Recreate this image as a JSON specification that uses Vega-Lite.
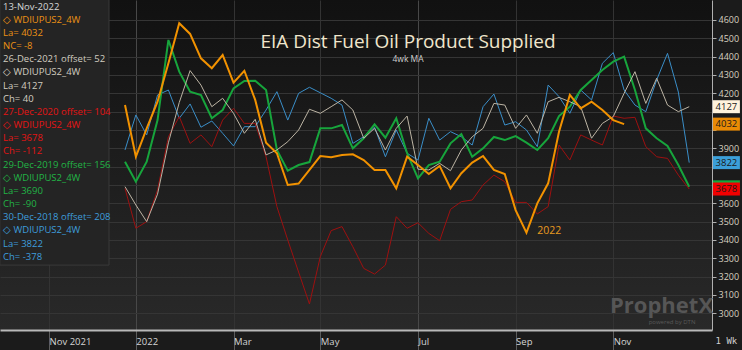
{
  "$schema": "https://vega.github.io/schema/vega-lite/v6.json",
  "width": 712,
  "height": 330,
  "autosize": {"type": "none"},
  "padding": {"left": 0, "top": 0, "right": 30, "bottom": 20},
  "background": "#1b1b1b",
  "config": {
    "font": "Open Sans",
    "axis": {"labelOverlap": false},
    "view": {"stroke": null, "fill": {"gradient": "linear", "x1": 0, "y1": 0, "x2": 0, "y2": 1, "stops": [{"offset": 0, "color": "#111111"}, {"offset": 1, "color": "#292929"}]}}
  },
  "title": {"text": "EIA Dist Fuel Oil Product Supplied", "subtitle": "4wk MA", "anchor": "middle", "orient": "top", "offset": -66, "dx": 52, "color": "#f0e6cc", "fontSize": 19, "fontWeight": "normal", "font": "Open Sans", "subtitleColor": "#cfcfcf", "subtitleFont": "Open Sans", "subtitleFontSize": 8.5, "subtitlePadding": 3},
  "datasets": {
    "weekly": [
      {"d": "2021-12-26", "2022": 4136, "2021": 3691, "2020": 3682, "2019": 3827, "2018": 3891},
      {"d": "2022-01-02", "2022": 3854, "2021": 3591, "2020": 3464, "2019": 3718, "2018": 4082},
      {"d": "2022-01-09", "2022": 4009, "2021": 3500, "2020": 3500, "2019": 3827, "2018": 3973},
      {"d": "2022-01-16", "2022": 4154, "2021": 3650, "2020": 3673, "2019": 4054, "2018": 4191},
      {"d": "2022-01-23", "2022": 4364, "2021": 3930, "2020": 3963, "2019": 4491, "2018": 4218},
      {"d": "2022-01-30", "2022": 4582, "2021": 4150, "2020": 4073, "2019": 4318, "2018": 4064},
      {"d": "2022-02-06", "2022": 4524, "2021": 4324, "2020": 3927, "2019": 4209, "2018": 4142},
      {"d": "2022-02-13", "2022": 4391, "2021": 4245, "2020": 3973, "2019": 4191, "2018": 4015},
      {"d": "2022-02-20", "2022": 4337, "2021": 4127, "2020": 3909, "2019": 4064, "2018": 4049},
      {"d": "2022-02-27", "2022": 4409, "2021": 4173, "2020": 4054, "2019": 4109, "2018": 3982},
      {"d": "2022-03-06", "2022": 4258, "2021": 4091, "2020": 4118, "2019": 4227, "2018": 3913},
      {"d": "2022-03-13", "2022": 4323, "2021": 3982, "2020": 4036, "2019": 4267, "2018": 4018},
      {"d": "2022-03-20", "2022": 4164, "2021": 4058, "2020": 4036, "2019": 4269, "2018": 4018},
      {"d": "2022-03-27", "2022": 3931, "2021": 3864, "2020": 3854, "2019": 4218, "2018": 4109},
      {"d": "2022-04-03", "2022": 3873, "2021": 3891, "2020": 3582, "2019": 3891, "2018": 4209},
      {"d": "2022-04-10", "2022": 3700, "2021": 3936, "2020": 3400, "2019": 3778, "2018": 4054},
      {"d": "2022-04-17", "2022": 3708, "2021": 4000, "2020": 3225, "2019": 3809, "2018": 4200},
      {"d": "2022-04-24", "2022": 3782, "2021": 4113, "2020": 3051, "2019": 3825, "2018": 4233},
      {"d": "2022-05-01", "2022": 3858, "2021": 4091, "2020": 3309, "2019": 4009, "2018": 4203},
      {"d": "2022-05-08", "2022": 3851, "2021": 4127, "2020": 3451, "2019": 4009, "2018": 4173},
      {"d": "2022-05-15", "2022": 3864, "2021": 4164, "2020": 3473, "2019": 4027, "2018": 4136},
      {"d": "2022-05-22", "2022": 3867, "2021": 4109, "2020": 3363, "2019": 3900, "2018": 3927},
      {"d": "2022-05-29", "2022": 3836, "2021": 3955, "2020": 3245, "2019": 3955, "2018": 3963},
      {"d": "2022-06-05", "2022": 3782, "2021": 4009, "2020": 3214, "2019": 4031, "2018": 4015},
      {"d": "2022-06-12", "2022": 3782, "2021": 3891, "2020": 3263, "2019": 3958, "2018": 3854},
      {"d": "2022-06-19", "2022": 3682, "2021": 4009, "2020": 3527, "2019": 4064, "2018": 4000},
      {"d": "2022-06-26", "2022": 3854, "2021": 4076, "2020": 3464, "2019": 3873, "2018": 3873},
      {"d": "2022-07-03", "2022": 3809, "2021": 3786, "2020": 3494, "2019": 3736, "2018": 3836},
      {"d": "2022-07-10", "2022": 3760, "2021": 3782, "2020": 3436, "2019": 3809, "2018": 4064},
      {"d": "2022-07-17", "2022": 3804, "2021": 3818, "2020": 3396, "2019": 3827, "2018": 3945},
      {"d": "2022-07-24", "2022": 3682, "2021": 3778, "2020": 3567, "2019": 3927, "2018": 3991},
      {"d": "2022-07-31", "2022": 3764, "2021": 3891, "2020": 3609, "2019": 3978, "2018": 3963},
      {"d": "2022-08-07", "2022": 3822, "2021": 3963, "2020": 3618, "2019": 3854, "2018": 3918},
      {"d": "2022-08-14", "2022": 3858, "2021": 4009, "2020": 3700, "2019": 3900, "2018": 4127},
      {"d": "2022-08-21", "2022": 3782, "2021": 4145, "2020": 3754, "2019": 3962, "2018": 4196},
      {"d": "2022-08-28", "2022": 3760, "2021": 4136, "2020": 3718, "2019": 3945, "2018": 4027},
      {"d": "2022-09-04", "2022": 3563, "2021": 4009, "2020": 3605, "2019": 3967, "2018": 4045},
      {"d": "2022-09-11", "2022": 3440, "2021": 4082, "2020": 3605, "2019": 3931, "2018": 4000},
      {"d": "2022-09-18", "2022": 3600, "2021": 3982, "2020": 3542, "2019": 3891, "2018": 3909},
      {"d": "2022-09-25", "2022": 3709, "2021": 4154, "2020": 3582, "2019": 3955, "2018": 4245},
      {"d": "2022-10-02", "2022": 3990, "2021": 4178, "2020": 3918, "2019": 4076, "2018": 4182},
      {"d": "2022-10-09", "2022": 4191, "2021": 4154, "2020": 3836, "2019": 4127, "2018": 4091},
      {"d": "2022-10-16", "2022": 4118, "2021": 4127, "2020": 3973, "2019": 4218, "2018": 4218},
      {"d": "2022-10-23", "2022": 4154, "2021": 3955, "2020": 3945, "2019": 4273, "2018": 4164},
      {"d": "2022-10-30", "2022": 4109, "2021": 4036, "2020": 3918, "2019": 4327, "2018": 4364},
      {"d": "2022-11-06", "2022": 4054, "2021": 4073, "2020": 4076, "2019": 4373, "2018": 4422},
      {"d": "2022-11-13", "2022": 4032, "2021": 4200, "2020": 4064, "2019": 4400, "2018": 4218},
      {"d": "2022-11-20", "2021": 4318, "2020": 4069, "2019": 4218, "2018": 4136},
      {"d": "2022-11-27", "2021": 4145, "2020": 3909, "2019": 4009, "2018": 4100},
      {"d": "2022-12-04", "2021": 4282, "2020": 3854, "2019": 3955, "2018": 4273},
      {"d": "2022-12-11", "2021": 4136, "2020": 3845, "2019": 3913, "2018": 4418},
      {"d": "2022-12-18", "2021": 4100, "2020": 3754, "2019": 3809, "2018": 4207},
      {"d": "2022-12-25", "2021": 4127, "2020": 3678, "2019": 3690, "2018": 3822}
    ],
    "tags": [
      {"s": "2021", "v": 4127},
      {"s": "2022", "v": 4032},
      {"s": "2018", "v": 3822},
      {"s": "2019", "v": 3690},
      {"s": "2020", "v": 3678}
    ],
    "legendrows": [
      {"row": 0, "g": "h", "t": "13-Nov-2022"},
      {"row": 1, "g": "o", "t": "◇  WDIUPUS2_4W"},
      {"row": 2, "g": "o", "t": "La= 4032"},
      {"row": 3, "g": "o", "t": "NC= -8"},
      {"row": 4, "g": "w", "t": "26-Dec-2021 offset= 52"},
      {"row": 5, "g": "w", "t": "◇  WDIUPUS2_4W"},
      {"row": 6, "g": "w", "t": "La= 4127"},
      {"row": 7, "g": "w", "t": "Ch= 40"},
      {"row": 8, "g": "r", "t": "27-Dec-2020 offset= 104"},
      {"row": 9, "g": "r", "t": "◇  WDIUPUS2_4W"},
      {"row": 10, "g": "r", "t": "La= 3678"},
      {"row": 11, "g": "r", "t": "Ch= -112"},
      {"row": 12, "g": "g", "t": "29-Dec-2019 offset= 156"},
      {"row": 13, "g": "g", "t": "◇  WDIUPUS2_4W"},
      {"row": 14, "g": "g", "t": "La= 3690"},
      {"row": 15, "g": "g", "t": "Ch= -90"},
      {"row": 16, "g": "b", "t": "30-Dec-2018 offset= 208"},
      {"row": 17, "g": "b", "t": "◇  WDIUPUS2_4W"},
      {"row": 18, "g": "b", "t": "La= 3822"},
      {"row": 19, "g": "b", "t": "Ch= -378"}
    ]
  },
  "resolve": {"scale": {"y": "independent", "color": "independent"}},
  "layer": [
    {
      "layer": [
        {
          "data": {"name": "weekly"},
          "transform": [{"fold": ["2018", "2019", "2020", "2021", "2022"], "as": ["s", "v"]}],
          "mark": {"type": "line", "interpolate": "linear"},
          "encoding": {
            "x": {
              "field": "d", "type": "temporal",
              "scale": {"domain": [{"year": 2021, "month": 10, "date": 6, "hours": 8, "minutes": 31}, {"year": 2023, "month": 1, "date": 8, "hours": 16, "minutes": 55}]},
              "axis": {
                "values": [{"year": 2021, "month": 11, "date": 7}, {"year": 2022, "month": 1, "date": 2}, {"year": 2022, "month": 3, "date": 6}, {"year": 2022, "month": 5, "date": 1}, {"year": 2022, "month": 7, "date": 3}, {"year": 2022, "month": 9, "date": 4}, {"year": 2022, "month": 11, "date": 6}],
                "labelExpr": "month(datum.value)==0 ? timeFormat(datum.value,'%Y') : (year(datum.value)<2022 ? timeFormat(datum.value,'%b %Y') : timeFormat(datum.value,'%b'))",
                "title": null,
                "grid": true,
                "gridColor": {"condition": {"test": "month(datum.value)==0 || month(datum.value)==6", "value": "#484848"}, "value": "#333333"},
                "tickSize": 20,
                "tickColor": "#5c5c5c",
                "domainColor": "#b8b8b8",
                "domainWidth": 2,
                "labelColor": "#d4d4d4",
                "labelFont": "Open Sans",
                "labelFontSize": 9.5,
                "labelAlign": "left",
                "labelBaseline": "middle",
                "labelPadding": -9,
                "labelDx": 2,
                "labelFlush": false,
                "labelOverlap": false
              }
            },
            "y": {
              "field": "v", "type": "quantitative",
              "scale": {"domain": [2909, 4709], "nice": false, "zero": false},
              "axis": {
                "orient": "right",
                "values": [3000, 3100, 3200, 3300, 3400, 3500, 3600, 3700, 3800, 3900, 4000, 4100, 4200, 4300, 4400, 4500, 4600],
                "tickCount": 18,
                "format": "d",
                "labelExpr": "(datum.value==4100 || datum.value==4000 || datum.value==3800 || datum.value==3700) ? '' : datum.label",
                "labelOverlap": false,
                "labelSeparation": 0,
                "title": null,
                "grid": true,
                "gridColor": "#353535",
                "tickSize": 4,
                "tickColor": "#b0b0b0",
                "domainColor": "#b0b0b0",
                "labelColor": "#d8d0c0",
                "labelFont": "Open Sans",
                "labelFontSize": 9,
                "labelPadding": 2
              }
            },
            "color": {"field": "s", "type": "nominal", "scale": {"domain": ["2018", "2019", "2020", "2021", "2022"], "range": ["#3a8ec8", "#17a53c", "#9e1010", "#bcb4a4", "#f29200"]}, "legend": null},
            "strokeWidth": {"field": "s", "type": "nominal", "scale": {"type": "ordinal", "domain": ["2018", "2019", "2020", "2021", "2022"], "range": [1, 2, 1, 1, 2]}, "legend": null}
          }
        },
        {
          "data": {"values": [{}]},
          "mark": {"type": "rect", "fill": "#242424", "stroke": "#3a3a3a", "strokeWidth": 1},
          "encoding": {
            "x": {"datum": {"year": 2021, "month": 10, "date": 6, "hours": 6}, "type": "temporal"},
            "x2": {"datum": {"year": 2021, "month": 12, "date": 15, "hours": 16}},
            "y": {"datum": 4720, "type": "quantitative"},
            "y2": {"datum": 3263}
          }
        },
        {
          "data": {"name": "tags"},
          "mark": {"type": "tick", "orient": "horizontal", "size": 27, "thickness": 13, "opacity": 1},
          "encoding": {
            "x": {"datum": {"year": 2023, "month": 1, "date": 18}, "type": "temporal"},
            "y": {"field": "v", "type": "quantitative"},
            "fill": {"field": "s", "type": "nominal", "scale": {"domain": ["2021", "2022", "2018", "2019", "2020"], "range": ["#fff3dc", "#e98a05", "#3b9fd9", "#14a83c", "#f20000"]}, "legend": null}
          }
        },
        {
          "data": {"name": "tags"},
          "transform": [{"filter": "datum.s != '2019'"}],
          "mark": {"type": "text", "align": "center", "baseline": "middle", "font": "Open Sans", "fontSize": 9.5, "fill": "#1a1a1a"},
          "encoding": {
            "x": {"datum": {"year": 2023, "month": 1, "date": 18}, "type": "temporal"},
            "y": {"field": "v", "type": "quantitative"},
            "text": {"field": "v", "type": "quantitative", "format": "d"}
          }
        },
        {
          "data": {"values": [{"t": "2022"}]},
          "mark": {"type": "text", "align": "left", "baseline": "middle", "font": "Open Sans", "fontSize": 10.5, "fill": "#e89a20"},
          "encoding": {
            "x": {"datum": {"year": 2022, "month": 9, "date": 18}, "type": "temporal"},
            "y": {"datum": 3449, "type": "quantitative"},
            "text": {"field": "t"}
          }
        },
        {
          "data": {"values": [{"t": "ProphetX"}]},
          "mark": {"type": "text", "align": "left", "baseline": "middle", "font": "Open Sans", "fontSize": 22, "fontWeight": "bold", "fill": "#565656"},
          "encoding": {
            "x": {"datum": {"year": 2022, "month": 11, "date": 3, "hours": 22}, "type": "temporal"},
            "y": {"datum": 3040, "type": "quantitative"},
            "text": {"field": "t"}
          }
        },
        {
          "data": {"values": [{"t": "powered by DTN"}]},
          "mark": {"type": "text", "align": "right", "baseline": "middle", "font": "Open Sans", "fontSize": 6, "fill": "#5a5a5a"},
          "encoding": {
            "x": {"datum": {"year": 2022, "month": 12, "date": 29}, "type": "temporal"},
            "y": {"datum": 2952, "type": "quantitative"},
            "text": {"field": "t"}
          }
        },
        {
          "data": {"values": [{"t": "1  Wk"}]},
          "mark": {"type": "text", "align": "center", "baseline": "middle", "font": "DejaVu Sans Mono", "fontSize": 9, "fill": "#cfcfcf"},
          "encoding": {
            "x": {"datum": {"year": 2023, "month": 1, "date": 18}, "type": "temporal"},
            "y": {"datum": 2850, "type": "quantitative"},
            "text": {"field": "t"}
          }
        }
      ]
    },
    {
      "data": {"name": "legendrows"},
      "mark": {"type": "text", "align": "left", "baseline": "middle", "font": "Open Sans", "fontSize": 9.5},
      "encoding": {
        "x": {"datum": {"year": 2021, "month": 10, "date": 8, "hours": 7}, "type": "temporal"},
        "y": {"field": "row", "type": "ordinal", "scale": {"type": "point", "domain": [0, 1, 2, 3, 4, 5, 6, 7, 8, 9, 10, 11, 12, 13, 14, 15, 16, 17, 18, 19], "range": [6.7, 256.7], "padding": 0}, "axis": null},
        "text": {"field": "t"},
        "color": {"field": "g", "type": "nominal", "scale": {"domain": ["h", "o", "w", "r", "g", "b"], "range": ["#d6d6d6", "#ec9214", "#d2cdc0", "#e41414", "#22b446", "#3e9ddc"]}, "legend": null}
      }
    }
  ]
}
